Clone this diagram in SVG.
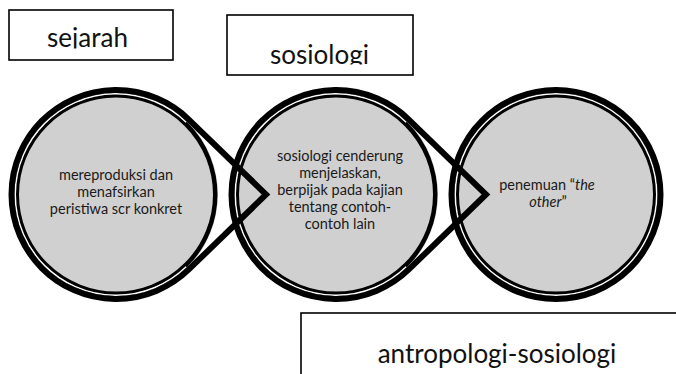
<svg xmlns="http://www.w3.org/2000/svg" width="676" height="374" viewBox="0 0 676 374">
<style>
.box{fill:#fff;stroke:#000;stroke-width:1.6}
.lbl{font-family:Lato,"Liberation Sans",sans-serif;font-size:26px;fill:#111;text-anchor:middle}
.fill{fill:#d0d0d0}
.thick{fill:none;stroke:#000;stroke-width:6;stroke-linejoin:miter;stroke-miterlimit:10}
.inner{fill:none;stroke:#000;stroke-width:4.5}
.gap{fill:none;stroke:#fff;stroke-width:1.5}
.t{font-family:Lato,"Liberation Sans",sans-serif;font-size:14.5px;fill:#1a1a1a;text-anchor:middle}
</style>
<defs>
<clipPath id="c1"><rect x="9" y="10" width="164" height="38.5"/></clipPath>
<clipPath id="c2"><rect x="227" y="15" width="186" height="49.5"/></clipPath>
</defs>
<g id="box-sejarah">
<rect class="box" x="9" y="10" width="164" height="50"/>
<text class="lbl" x="87.5" y="47" clip-path="url(#c1)">sejarah</text>
</g>
<g id="box-sosiologi">
<rect class="box" x="227" y="15" width="186" height="60"/>
<text class="lbl" x="319.5" y="63.5" clip-path="url(#c2)">sosiologi</text>
</g>
<g id="box-antropologi-sosiologi">
<rect class="box" x="301" y="313" width="400" height="100"/>
<text class="lbl" x="497" y="363">antropologi-sosiologi</text>
</g>
<g id="node1">
<circle class="fill" cx="116" cy="194.5" r="102"/>
<circle class="inner" cx="116" cy="194.5" r="99.25"/>
<path class="gap" d="M186.19 122.22 A100.75 100.75 0 1 0 186.19 266.78"/>
<text class="t"><tspan x="116" y="180">mereproduksi dan</tspan><tspan x="116" y="197">menafsirkan</tspan><tspan x="116" y="214">peristiwa scr konkret</tspan></text>
</g>
<g id="node2">
<circle class="fill" cx="336" cy="194.5" r="102"/>
<circle class="inner" cx="336" cy="194.5" r="99.25"/>
<path class="gap" d="M406.19 122.22 A100.75 100.75 0 1 0 406.19 266.78"/>
<text class="t"><tspan x="340" y="161">sosiologi cenderung</tspan><tspan x="340" y="178">menjelaskan,</tspan><tspan x="340" y="195">berpijak pada kajian</tspan><tspan x="340" y="212">tentang contoh-</tspan><tspan x="340" y="229">contoh lain</tspan></text>
</g>
<g id="node3">
<circle class="fill" cx="556" cy="194.5" r="102"/>
<circle class="inner" cx="556" cy="194.5" r="99.25"/>
<circle class="gap" cx="556" cy="194.5" r="100.75"/>
<circle class="thick" cx="556" cy="194.5" r="104.5"/>
<text class="t"><tspan x="547" y="189.5">penemuan “<tspan font-style="italic">the</tspan></tspan><tspan x="548" y="206.5"><tspan font-style="italic">other</tspan>”</tspan></text>
</g>
<g id="connectors">
<path class="thick" d="M188.8 119.53 A104.5 104.5 0 1 0 188.8 269.47 L266 194.5 Z"/>
<path class="thick" d="M408.8 119.53 A104.5 104.5 0 1 0 408.8 269.47 L486 194.5 Z"/>
</g>
</svg>
